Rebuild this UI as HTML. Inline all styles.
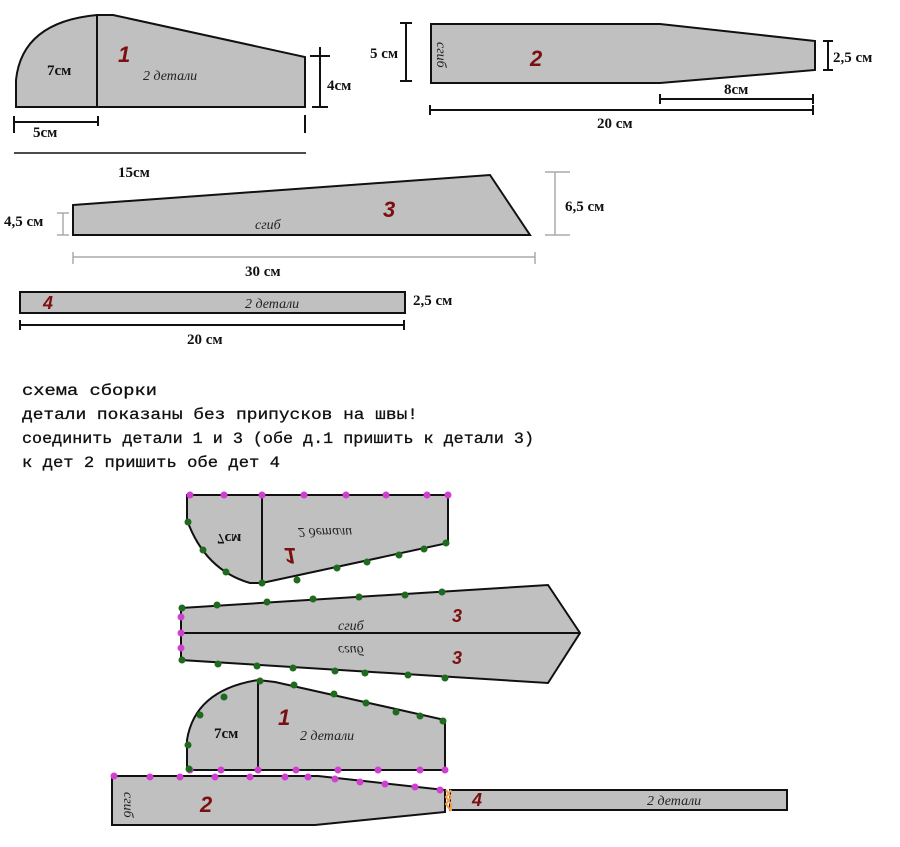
<!DOCTYPE html>
<html><head><meta charset="utf-8"><style>
html,body{margin:0;padding:0;background:#fff;}
svg{display:block;}
text{font-family:"Liberation Serif","DejaVu Serif",serif;}
.b{font-weight:bold;font-size:15px;fill:#111;}
.r{fill:#7a1010;font-weight:bold;font-style:italic;font-family:"Liberation Sans",sans-serif;}
.i{font-style:italic;font-size:14px;fill:#222;}
.t{font-size:16px;fill:#111;font-family:"Liberation Mono","DejaVu Sans Mono",monospace;stroke:#111;stroke-width:0.3;}
</style></head><body>
<svg width="900" height="847" viewBox="0 0 900 847" xmlns="http://www.w3.org/2000/svg">
<g fill="#c0c0c0" stroke="#111" stroke-width="2">
<path d="M16,107 L16,80 Q22,22 97,15 L113,15 L305,57 L305,107 Z"/>
<line x1="97" y1="15" x2="97" y2="107"/>
<path d="M431,24 L660,24 L815,41 L815,70 L660,83 L431,83 Z"/>
<path d="M73,205 L490,175 L530,235 L73,235 Z"/>
<rect x="20" y="292" width="385" height="21"/>
</g>
<g stroke="#111" stroke-width="2" fill="none">
<line x1="320" y1="47" x2="320" y2="107"/><line x1="310" y1="56" x2="330" y2="56"/><line x1="312" y1="107" x2="328" y2="107"/>
<line x1="14" y1="122" x2="98" y2="122"/><line x1="14" y1="116" x2="14" y2="133"/><line x1="98" y1="116" x2="98" y2="126"/>
<line x1="305" y1="115" x2="305" y2="133"/>
<line x1="14" y1="153" x2="306" y2="153" stroke-width="1.5"/>
<line x1="406" y1="23" x2="406" y2="81"/><line x1="400" y1="23" x2="412" y2="23"/><line x1="400" y1="81" x2="412" y2="81"/>
<line x1="828" y1="41" x2="828" y2="70"/><line x1="823" y1="41" x2="833" y2="41"/><line x1="823" y1="70" x2="833" y2="70"/>
<line x1="660" y1="99" x2="813" y2="99"/><line x1="660" y1="94" x2="660" y2="104"/><line x1="813" y1="94" x2="813" y2="104"/>
<line x1="430" y1="110" x2="813" y2="110"/><line x1="430" y1="105" x2="430" y2="115"/><line x1="813" y1="105" x2="813" y2="115"/>
<line x1="20" y1="325" x2="404" y2="325"/><line x1="20" y1="320" x2="20" y2="330"/><line x1="404" y1="320" x2="404" y2="330"/>
</g>
<g stroke="#aaa" stroke-width="1.5" fill="none">
<line x1="63" y1="213" x2="63" y2="235"/><line x1="57" y1="213" x2="69" y2="213"/><line x1="57" y1="235" x2="69" y2="235"/>
<line x1="555" y1="172" x2="555" y2="235"/><line x1="545" y1="172" x2="570" y2="172"/><line x1="545" y1="235" x2="570" y2="235"/>
<line x1="73" y1="257" x2="535" y2="257"/><line x1="73" y1="252" x2="73" y2="264"/><line x1="535" y1="252" x2="535" y2="264"/>
</g>
<text x="47" y="75" class="b" font-size="16">7см</text>
<text x="118" y="62" class="r" font-size="22">1</text>
<text x="143" y="80" class="i" font-size="16">2 детали</text>
<text x="327" y="90" class="b" font-size="16">4см</text>
<text x="33" y="137" class="b" font-size="16">5см</text>
<text x="118" y="177" class="b" font-size="17">15см</text>
<text x="370" y="58" class="b" font-size="14">5 см</text>
<text transform="translate(437,42) rotate(90)" class="i" font-size="12">сгиб</text>
<text x="530" y="66" class="r" font-size="22">2</text>
<text x="833" y="62" class="b" font-size="14">2,5 см</text>
<text x="724" y="94" class="b" font-size="14">8см</text>
<text x="597" y="128" class="b" font-size="14">20 см</text>
<text x="4" y="226" class="b" font-size="14">4,5 см</text>
<text x="255" y="229" class="i" font-size="14">сгиб</text>
<text x="383" y="217" class="r" font-size="22">3</text>
<text x="565" y="211" class="b" font-size="14">6,5 см</text>
<text x="245" y="276" class="b" font-size="14">30 см</text>
<text x="43" y="309" class="r" font-size="18">4</text>
<text x="245" y="308" class="i" font-size="14">2 детали</text>
<text x="413" y="305" class="b" font-size="14">2,5 см</text>
<text x="187" y="344" class="b" font-size="14">20 см</text>

<text x="22" y="395" class="t" textLength="135" lengthAdjust="spacingAndGlyphs">схема сборки</text>
<text x="22" y="419" class="t" textLength="396" lengthAdjust="spacingAndGlyphs">детали показаны без припусков на швы!</text>
<text x="22" y="443" class="t" textLength="512" lengthAdjust="spacingAndGlyphs">соединить детали 1 и 3 (обе д.1 пришить к детали 3)</text>
<text x="22" y="467" class="t" textLength="258" lengthAdjust="spacingAndGlyphs">к дет 2 пришить обе дет 4</text>

<g fill="#c0c0c0" stroke="#111" stroke-width="2">
<path d="M187,495 L448,495 L448,543 L262,583 L250,583 Q205,570 187,520 Z"/>
<path d="M181,608 L548,585 L580,633 L548,683 L181,660 Z"/>
<path d="M187,770 L187,740 Q195,690 258,680 L275,682 L445,720 L445,770 Z"/>
<path d="M112,776 L318,776 L445,790 L445,812 L315,825 L112,825 Z"/>
<rect x="450" y="790" width="337" height="20"/>
</g>
<g stroke="#111" stroke-width="2">
<line x1="262" y1="495" x2="262" y2="583"/>
<line x1="181" y1="633" x2="580" y2="633"/>
<line x1="258" y1="680" x2="258" y2="770"/>
</g>
<g transform="translate(0,1058) scale(1,-1)">
<text x="217" y="524" class="b" font-size="16">7см</text>
<text x="284" y="510" class="r" font-size="22">1</text>
<text x="298" y="530" class="i" font-size="16">2 детали</text>
</g>
<text x="338" y="630" class="i" font-size="12">сгиб</text>
<text transform="translate(0,1283) scale(1,-1)" x="338" y="637" class="i" font-size="12">сгиб</text>
<text x="452" y="622" class="r" font-size="18">3</text>
<text x="452" y="664" class="r" font-size="18">3</text>
<text x="214" y="738" class="b" font-size="16">7см</text>
<text x="278" y="725" class="r" font-size="22">1</text>
<text x="300" y="740" class="i" font-size="16">2 детали</text>
<text transform="translate(124,792) rotate(90)" class="i" font-size="11">сгиб</text>
<text x="200" y="812" class="r" font-size="22">2</text>
<text x="472" y="806" class="r" font-size="18">4</text>
<text x="647" y="805" class="i" font-size="13">2 детали</text>

<g fill="#d040d0">
<circle cx="190" cy="495" r="3.5"/><circle cx="224" cy="495" r="3.5"/><circle cx="262" cy="495" r="3.5"/><circle cx="304" cy="495" r="3.5"/><circle cx="346" cy="495" r="3.5"/><circle cx="386" cy="495" r="3.5"/><circle cx="427" cy="495" r="3.5"/><circle cx="448" cy="495" r="3.5"/>
<circle cx="181" cy="617" r="3.5"/><circle cx="181" cy="633" r="3.5"/><circle cx="181" cy="648" r="3.5"/>
<circle cx="190" cy="770" r="3.5"/><circle cx="221" cy="770" r="3.5"/><circle cx="258" cy="770" r="3.5"/><circle cx="296" cy="770" r="3.5"/><circle cx="338" cy="770" r="3.5"/><circle cx="378" cy="770" r="3.5"/><circle cx="420" cy="770" r="3.5"/><circle cx="445" cy="770" r="3.5"/>
<circle cx="114" cy="776" r="3.5"/><circle cx="150" cy="777" r="3.5"/><circle cx="180" cy="777" r="3.5"/><circle cx="215" cy="777" r="3.5"/><circle cx="250" cy="777" r="3.5"/><circle cx="285" cy="777" r="3.5"/><circle cx="308" cy="777" r="3.5"/><circle cx="335" cy="779" r="3.5"/><circle cx="360" cy="782" r="3.5"/><circle cx="385" cy="784" r="3.5"/><circle cx="415" cy="787" r="3.5"/><circle cx="440" cy="790" r="3.5"/>
</g>
<g fill="#1e6a1e">
<circle cx="188" cy="522" r="3.5"/><circle cx="203" cy="550" r="3.5"/><circle cx="226" cy="572" r="3.5"/><circle cx="262" cy="583" r="3.5"/><circle cx="297" cy="580" r="3.5"/><circle cx="337" cy="568" r="3.5"/><circle cx="367" cy="562" r="3.5"/><circle cx="399" cy="555" r="3.5"/><circle cx="424" cy="549" r="3.5"/><circle cx="446" cy="543" r="3.5"/>
<circle cx="182" cy="608" r="3.5"/><circle cx="217" cy="605" r="3.5"/><circle cx="267" cy="602" r="3.5"/><circle cx="313" cy="599" r="3.5"/><circle cx="359" cy="597" r="3.5"/><circle cx="405" cy="595" r="3.5"/><circle cx="442" cy="592" r="3.5"/>
<circle cx="182" cy="660" r="3.5"/><circle cx="218" cy="664" r="3.5"/><circle cx="257" cy="666" r="3.5"/><circle cx="293" cy="668" r="3.5"/><circle cx="335" cy="671" r="3.5"/><circle cx="365" cy="673" r="3.5"/><circle cx="408" cy="675" r="3.5"/><circle cx="445" cy="678" r="3.5"/>
<circle cx="188" cy="745" r="3.5"/><circle cx="200" cy="715" r="3.5"/><circle cx="224" cy="697" r="3.5"/><circle cx="260" cy="681" r="3.5"/><circle cx="294" cy="685" r="3.5"/><circle cx="334" cy="694" r="3.5"/><circle cx="366" cy="703" r="3.5"/><circle cx="396" cy="712" r="3.5"/><circle cx="420" cy="716" r="3.5"/><circle cx="443" cy="721" r="3.5"/><circle cx="189" cy="769" r="3.5"/>
</g>
<g fill="none" stroke="#f0a050" stroke-width="2">
<path d="M446,790 L451,797 L446,804 L451,811"/><path d="M451,790 L446,797 L451,804 L451,811"/>
</g>
</svg>
</body></html>
